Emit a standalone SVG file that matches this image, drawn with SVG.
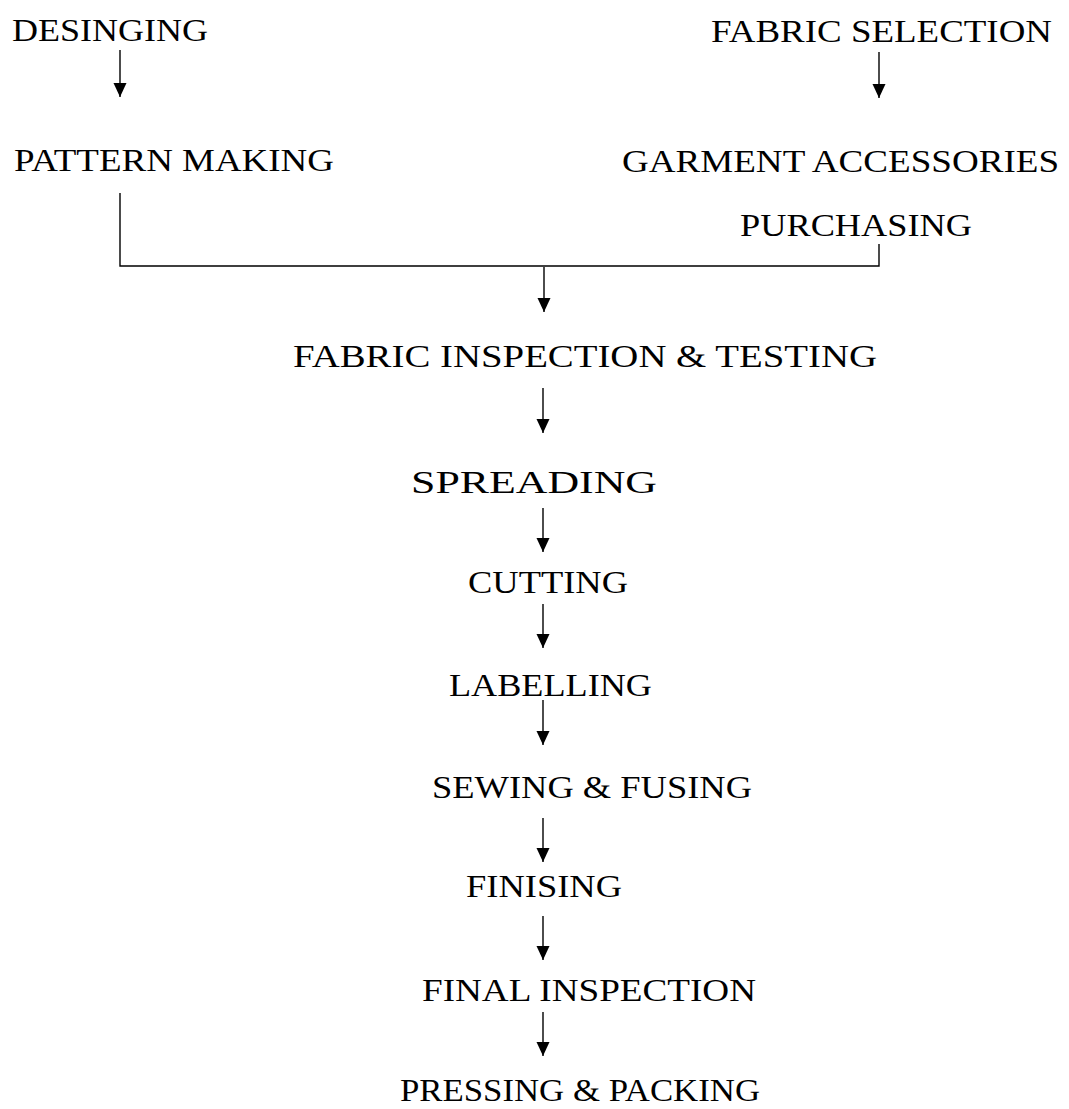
<svg xmlns="http://www.w3.org/2000/svg" width="1069" height="1109" viewBox="0 0 1069 1109">
<defs>
<style>
.t{font-family:"Liberation Serif","Times New Roman",serif;font-size:32px;fill:#000;}
.c{fill:none;stroke:#000;stroke-width:1.4;}
</style>
<marker id="ah" markerUnits="userSpaceOnUse" markerWidth="16" markerHeight="16" viewBox="0 0 16 16" refX="15" refY="8" orient="auto">
<path d="M1,1.5 L15,8 L1,14.5 Z" fill="#000"/>
</marker>
</defs>
<rect width="1069" height="1109" fill="#fff"/>
<g id="n-desinging"><text class="t" x="12" y="41" textLength="196" lengthAdjust="spacingAndGlyphs">DESINGING</text></g>
<g id="n-pattern"><text class="t" x="14" y="171" textLength="320" lengthAdjust="spacingAndGlyphs">PATTERN MAKING</text></g>
<g id="n-fabricsel"><text class="t" x="711" y="42" textLength="341" lengthAdjust="spacingAndGlyphs">FABRIC SELECTION</text></g>
<g id="n-garment"><text class="t" x="622" y="172" textLength="437" lengthAdjust="spacingAndGlyphs">GARMENT ACCESSORIES</text><text class="t" x="740" y="236" textLength="232" lengthAdjust="spacingAndGlyphs">PURCHASING</text></g>
<g id="n-inspect"><text class="t" x="293" y="367" textLength="584" lengthAdjust="spacingAndGlyphs">FABRIC INSPECTION &amp; TESTING</text></g>
<g id="n-spreading"><text class="t" x="411" y="493" textLength="246" lengthAdjust="spacingAndGlyphs">SPREADING</text></g>
<g id="n-cutting"><text class="t" x="468" y="593" textLength="160" lengthAdjust="spacingAndGlyphs">CUTTING</text></g>
<g id="n-labelling"><text class="t" x="449" y="696" textLength="203" lengthAdjust="spacingAndGlyphs">LABELLING</text></g>
<g id="n-sewing"><text class="t" x="432" y="798" textLength="320" lengthAdjust="spacingAndGlyphs">SEWING &amp; FUSING</text></g>
<g id="n-finising"><text class="t" x="466" y="897" textLength="156" lengthAdjust="spacingAndGlyphs">FINISING</text></g>
<g id="n-final"><text class="t" x="422" y="1001" textLength="334" lengthAdjust="spacingAndGlyphs">FINAL INSPECTION</text></g>
<g id="n-pressing"><text class="t" x="400" y="1101" textLength="360" lengthAdjust="spacingAndGlyphs">PRESSING &amp; PACKING</text></g>
<g id="connectors">
<line class="c" x1="120" y1="50" x2="120" y2="97" marker-end="url(#ah)"/>
<line class="c" x1="879" y1="52" x2="879" y2="98" marker-end="url(#ah)"/>
<polyline class="c" points="120,193 120,266 879,266 879,244"/>
<line class="c" x1="544" y1="267" x2="544" y2="312" marker-end="url(#ah)"/>
<line class="c" x1="543" y1="388" x2="543" y2="433" marker-end="url(#ah)"/>
<line class="c" x1="543" y1="508" x2="543" y2="552" marker-end="url(#ah)"/>
<line class="c" x1="543" y1="604" x2="543" y2="648" marker-end="url(#ah)"/>
<line class="c" x1="543" y1="700" x2="543" y2="745" marker-end="url(#ah)"/>
<line class="c" x1="543" y1="818" x2="543" y2="862" marker-end="url(#ah)"/>
<line class="c" x1="543" y1="916" x2="543" y2="960" marker-end="url(#ah)"/>
<line class="c" x1="543" y1="1012" x2="543" y2="1056" marker-end="url(#ah)"/>
</g>
</svg>
